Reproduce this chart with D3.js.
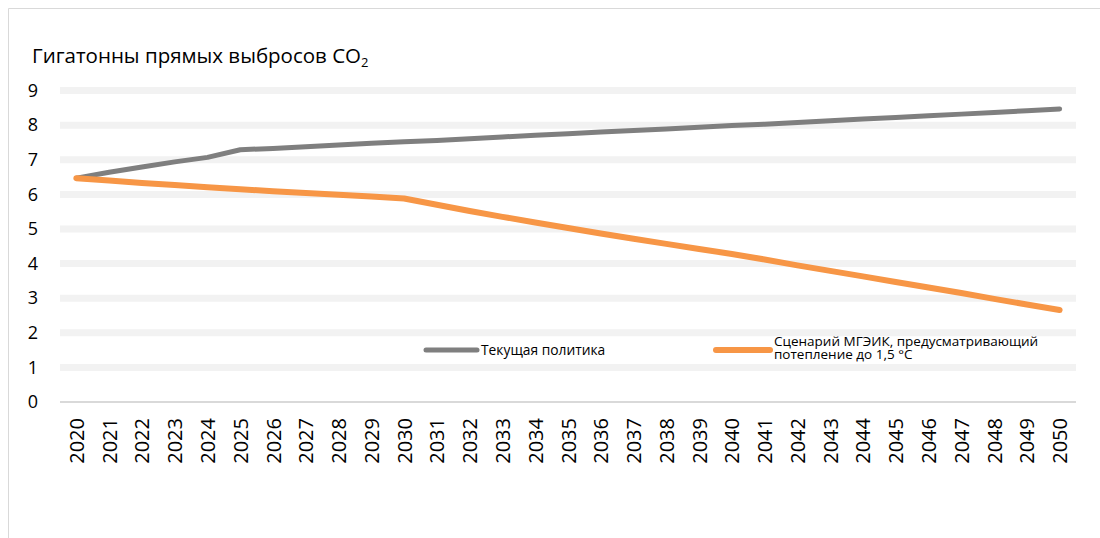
<!DOCTYPE html>
<html>
<head>
<meta charset="utf-8">
<script src="https://cdn.jsdelivr.net/npm/d3@7"></script>
<style>
  html, body { margin: 0; padding: 0; background: #ffffff; }
  svg { display: block; }
  text { font-family: "Open Sans", "Noto Sans", sans-serif; fill: #000; }
</style>
</head>
<body>
<svg id="chart" width="1100" height="538"></svg>
<script>
// Years on the category axis
const years = [2020, 2021, 2022, 2023, 2024, 2025, 2026, 2027, 2028, 2029, 2030,
               2031, 2032, 2033, 2034, 2035, 2036, 2037, 2038, 2039, 2040,
               2041, 2042, 2043, 2044, 2045, 2046, 2047, 2048, 2049, 2050];

// Direct CO2 emissions, gigatonnes — current policy
const currentPolicy = [6.47, 6.64, 6.79, 6.94, 7.07, 7.29, 7.33, 7.38, 7.43, 7.48, 7.52,
                       7.56, 7.61, 7.66, 7.71, 7.75, 7.80, 7.85, 7.89, 7.94, 7.99,
                       8.03, 8.08, 8.13, 8.18, 8.22, 8.27, 8.32, 8.37, 8.42, 8.47];

// Direct CO2 emissions, gigatonnes — IPCC 1.5 °C scenario
const ipcc15 = [6.47, 6.40, 6.33, 6.27, 6.21, 6.15, 6.09, 6.04, 5.99, 5.94, 5.88,
                5.70, 5.52, 5.35, 5.19, 5.03, 4.87, 4.72, 4.57, 4.42, 4.28,
                4.12, 3.95, 3.79, 3.63, 3.47, 3.31, 3.15, 2.98, 2.82, 2.66];

const yTicks = [0, 1, 2, 3, 4, 5, 6, 7, 8, 9];

const titleText = "Гигатонны прямых выбросов CO";
const titleSub = "2";
const seriesNames = ["Текущая политика", ["Сценарий МГЭИК, предусматривающий", "потепление до 1,5 °C"]];
const colors = ["#7f7f7f", "#f79646"];

const svg = d3.select("#chart");

// outer chart frame
svg.append("path")
  .attr("d", "M8.5,538 V8.5 H1100")
  .attr("fill", "none")
  .attr("stroke", "#d9d9d9")
  .attr("stroke-width", 1);

const x = d3.scalePoint().domain(years).range([60, 1076]).padding(0.5);
const y = d3.scaleLinear().domain([0, 9]).range([402, 90.6]);

// horizontal gridlines
svg.append("g")
  .selectAll("line")
  .data(yTicks.filter(d => d > 0))
  .join("line")
  .attr("x1", 60).attr("x2", 1076)
  .attr("y1", d => y(d)).attr("y2", d => y(d))
  .attr("stroke", "#f2f2f2")
  .attr("stroke-width", 7);

// baseline
svg.append("line")
  .attr("x1", 60).attr("x2", 1076)
  .attr("y1", y(0)).attr("y2", y(0))
  .attr("stroke", "#d9d9d9")
  .attr("stroke-width", 2);

// y axis labels
const yAxis = svg.append("g")
  .attr("transform", "translate(38,0)")
  .call(d3.axisLeft(y).tickValues(yTicks).tickSize(0).tickPadding(0));
yAxis.select(".domain").remove();
yAxis.selectAll("text")
  .attr("font-family", "Open Sans, Noto Sans, sans-serif")
  .attr("font-size", 18)
  .attr("fill", "#000");

// x axis labels, rotated
const xAxis = svg.append("g")
  .attr("transform", `translate(0,${y(0)})`)
  .call(d3.axisBottom(x).tickSize(0));
xAxis.select(".domain").remove();
xAxis.selectAll("text")
  .attr("font-family", "Open Sans, Noto Sans, sans-serif")
  .attr("font-size", 20)
  .attr("fill", "#000")
  .attr("text-anchor", "end")
  .attr("transform", "rotate(-90)")
  .attr("x", -16)
  .attr("y", 0)
  .attr("dy", "0.35em");

// series lines
const line = d3.line()
  .x((d, i) => x(years[i]))
  .y(d => y(d));

[currentPolicy, ipcc15].forEach((series, k) => {
  svg.append("path")
    .datum(series)
    .attr("d", line)
    .attr("fill", "none")
    .attr("stroke", colors[k])
    .attr("stroke-width", k === 0 ? 5 : 6)
    .attr("stroke-linecap", "round")
    .attr("stroke-linejoin", "round");
});

// title
const title = svg.append("text")
  .attr("x", 32)
  .attr("y", 63)
  .attr("font-size", 20.5);
title.append("tspan").text(titleText);
title.append("tspan").attr("font-size", 13).attr("dy", 4).text(titleSub);

// legend
const legend = svg.append("g");
legend.append("line")
  .attr("x1", 426).attr("x2", 477).attr("y1", 350).attr("y2", 350)
  .attr("stroke", colors[0]).attr("stroke-width", 5).attr("stroke-linecap", "round");
legend.append("text")
  .attr("x", 481).attr("y", 350).attr("dy", "0.35em")
  .attr("font-size", 13.8)
  .text(seriesNames[0]);

legend.append("line")
  .attr("x1", 716).attr("x2", 770).attr("y1", 350).attr("y2", 350)
  .attr("stroke", colors[1]).attr("stroke-width", 6).attr("stroke-linecap", "round");
const l2 = legend.append("text")
  .attr("x", 774).attr("y", 341)
  .attr("font-size", 13.5);
seriesNames[1].forEach((t, i) => {
  l2.append("tspan").attr("x", 774).attr("dy", i === 0 ? "0.35em" : 13).text(t);
});
</script>
</body>
</html>
